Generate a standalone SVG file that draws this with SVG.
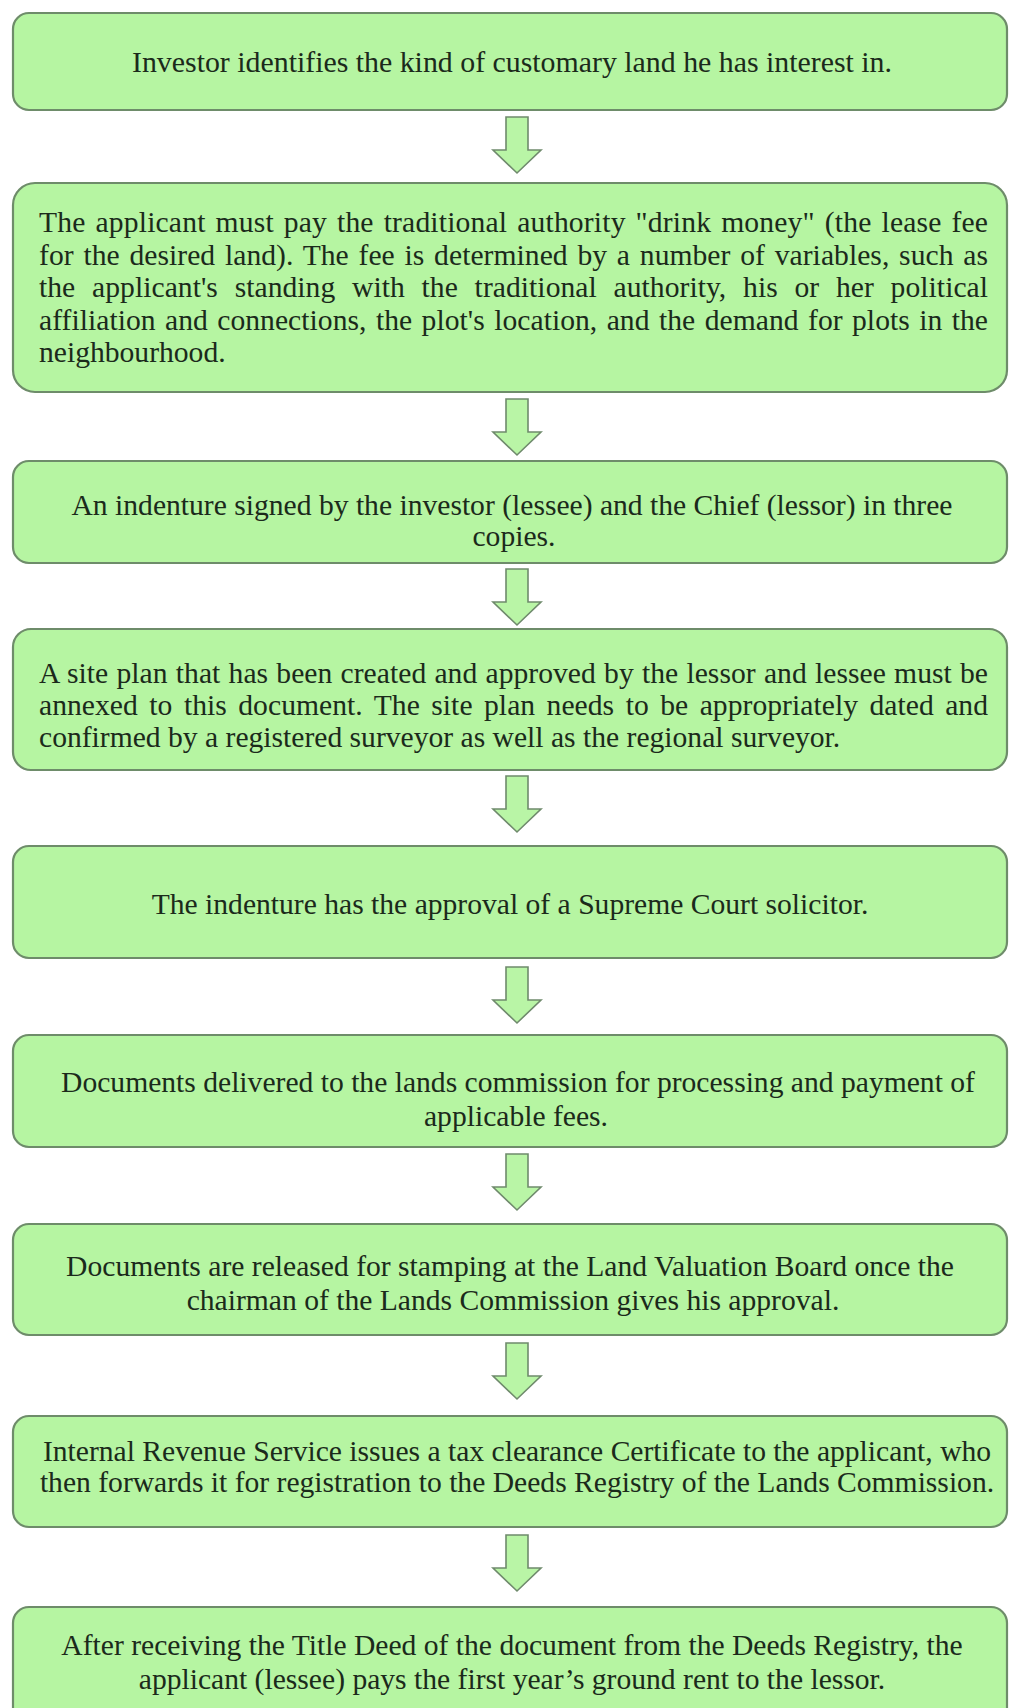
<svg xmlns="http://www.w3.org/2000/svg" width="1010" height="1708" viewBox="0 0 1010 1708">
<style>
.box{fill:#b6f5a2;stroke:#6e8c6a;stroke-width:2.2}
.t{font-family:"Liberation Serif","Times New Roman",serif;font-size:29.6px;fill:#1b2a1b}
.c{text-anchor:middle}
.arr{fill:#b9f5a6;stroke:#6f8a6c;stroke-width:1.6;stroke-linejoin:miter}
</style>
<defs>
<path id="arrow" d="M-11,0 H11 V33 H24 L0,56 L-24,33 H-11 Z"/>
</defs>
<rect width="1010" height="1708" fill="#ffffff"/>
<g id="connectors">
<use href="#arrow" class="arr" x="517" y="117"/>
<use href="#arrow" class="arr" x="517" y="399"/>
<use href="#arrow" class="arr" x="517" y="569"/>
<use href="#arrow" class="arr" x="517" y="776"/>
<use href="#arrow" class="arr" x="517" y="967"/>
<use href="#arrow" class="arr" x="517" y="1154"/>
<use href="#arrow" class="arr" x="517" y="1343"/>
<use href="#arrow" class="arr" x="517" y="1535"/>
</g>
<g id="n1">
<rect class="box" x="13" y="13" width="994" height="97" rx="16"/>
<text class="t c" x="512" y="72" textLength="760" lengthAdjust="spacingAndGlyphs">Investor identifies the kind of customary land he has interest in.</text>
</g>
<g id="n2">
<rect class="box" x="13" y="183" width="994" height="209" rx="22"/>
<text class="t" x="39" y="232" word-spacing="2.4" textLength="949" lengthAdjust="spacing">The applicant must pay the traditional authority "drink money" (the lease fee</text>
<text class="t" x="39" y="265" word-spacing="2.3" textLength="949" lengthAdjust="spacing">for the desired land). The fee is determined by a number of variables, such as</text>
<text class="t" x="39" y="297" word-spacing="9.3" textLength="949" lengthAdjust="spacing">the applicant's standing with the traditional authority, his or her political</text>
<text class="t" x="39" y="330" word-spacing="2" textLength="949" lengthAdjust="spacing">affiliation and connections, the plot's location, and the demand for plots in the</text>
<text class="t" x="39" y="362">neighbourhood.</text>
</g>
<g id="n3">
<rect class="box" x="13" y="461" width="994" height="102" rx="16"/>
<text class="t c" x="512" y="515">An indenture signed by the investor (lessee) and the Chief (lessor) in three</text>
<text class="t c" x="514" y="546">copies.</text>
</g>
<g id="n4">
<rect class="box" x="13" y="629" width="994" height="141" rx="18"/>
<text class="t" x="39" y="683" word-spacing="0.8" textLength="949" lengthAdjust="spacing">A site plan that has been created and approved by the lessor and lessee must be</text>
<text class="t" x="39" y="715" word-spacing="4" textLength="949" lengthAdjust="spacing">annexed to this document. The site plan needs to be appropriately dated and</text>
<text class="t" x="39" y="747">confirmed by a registered surveyor as well as the regional surveyor.</text>
</g>
<g id="n5">
<rect class="box" x="13" y="846" width="994" height="112" rx="16"/>
<text class="t c" x="510" y="914">The indenture has the approval of a Supreme Court solicitor.</text>
</g>
<g id="n6">
<rect class="box" x="13" y="1035" width="994" height="112" rx="16"/>
<text class="t c" x="518" y="1092">Documents delivered to the lands commission for processing and payment of</text>
<text class="t c" x="516" y="1126">applicable fees.</text>
</g>
<g id="n7">
<rect class="box" x="13" y="1224" width="994" height="111" rx="16"/>
<text class="t c" x="510" y="1276">Documents are released for stamping at the Land Valuation Board once the</text>
<text class="t c" x="513" y="1310">chairman of the Lands Commission gives his approval.</text>
</g>
<g id="n8">
<rect class="box" x="13" y="1416" width="994" height="111" rx="16"/>
<text class="t c" x="517" y="1461">Internal Revenue Service issues a tax clearance Certificate to the applicant, who</text>
<text class="t c" x="517" y="1492">then forwards it for registration to the Deeds Registry of the Lands Commission.</text>
</g>
<g id="n9">
<rect class="box" x="13" y="1607" width="994" height="120" rx="16"/>
<text class="t c" x="512" y="1655">After receiving the Title Deed of the document from the Deeds Registry, the</text>
<text class="t c" x="512" y="1689">applicant (lessee) pays the first year’s ground rent to the lessor.</text>
</g>
</svg>
